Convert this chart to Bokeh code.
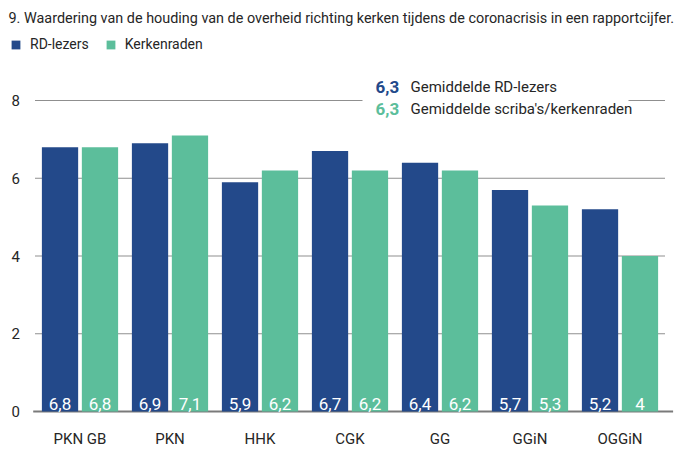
from bokeh.plotting import figure
from bokeh.models import (ColumnDataSource, Range1d, FixedTicker, Label, Legend,
                          LegendItem, BoxAnnotation)
from bokeh.core.properties import value
from bokeh.embed import file_html
from bokeh.resources import INLINE

# ---- data ----
categories = ["PKN GB", "PKN", "HHK", "CGK", "GG", "GGiN", "OGGiN"]
rd_lezers = [6.8, 6.9, 5.9, 6.7, 6.4, 5.7, 5.2]
kerkenraden = [6.8, 7.1, 6.2, 6.2, 6.2, 5.3, 4.0]
series_names = ["RD-lezers", "Kerkenraden"]
avg_rd = 6.3
avg_kerk = 6.3
y_ticks = [0, 2, 4, 6, 8]
title_text = "9. Waardering van de houding van de overheid richting kerken tijdens de coronacrisis in een rapportcijfer."

BLUE = "#23498a"
GREEN = "#5cbe9b"
FONT = "Roboto"
TXT = "#262626"
GRID = "#8f8f8f"

# ---- layout (pixels) ----
W, H = 688, 453
ZERO_PX = 411               # canvas y of value 0
F_BOTTOM = 30               # room for the category labels
FRAME_H = H - F_BOTTOM
PX_PER_UNIT_Y = 38.875
PX_PER_GROUP = 90.0
FIRST_GROUP_PX = 79.5

n = len(categories)
idx = list(range(n))


def fmt(v):
    return f"{v:g}".replace(".", ",")


off = 0.222
bw = 0.403
src = ColumnDataSource(dict(
    x_rd=[i - off for i in idx],
    x_kr=[i + off for i in idx],
    rd=rd_lezers,
    kr=kerkenraden,
    rd_lbl=[fmt(v) for v in rd_lezers],
    kr_lbl=[fmt(v) for v in kerkenraden],
))

x_start = -FIRST_GROUP_PX / PX_PER_GROUP
x_end = x_start + W / PX_PER_GROUP
y_start = -(FRAME_H - ZERO_PX) / PX_PER_UNIT_Y
y_end = ZERO_PX / PX_PER_UNIT_Y
p = figure(x_range=Range1d(x_start, x_end), y_range=Range1d(y_start, y_end),
           width=W, height=H, output_backend="svg", toolbar_location=None,
           y_axis_location=None,
           min_border_left=0, min_border_right=0, min_border_top=0, min_border_bottom=F_BOTTOM)
p.outline_line_color = None
p.background_fill_color = "white"
p.xgrid.grid_line_color = None
p.ygrid.grid_line_color = None

# gridlines (2..8) spanning the category area, baseline at 0 a bit longer and darker
grid_y = [t for t in y_ticks if t > 0]
p.segment(x0=-0.5, x1=n - 0.5, y0=grid_y, y1=grid_y, line_color=GRID, line_width=1)
p.segment(x0=[-0.52], x1=[n - 0.5 + 0.09], y0=[0], y1=[0], line_color="#7a7a7a", line_width=1.8)

r_rd = p.vbar(x="x_rd", top="rd", width=bw, bottom=0, source=src, fill_color=BLUE, line_color=None)
r_kr = p.vbar(x="x_kr", top="kr", width=bw, bottom=0, source=src, fill_color=GREEN, line_color=None)

for col, xcol in (("rd_lbl", "x_rd"), ("kr_lbl", "x_kr")):
    p.text(x=xcol, y=0, text=col, source=src,
           text_align="center", text_baseline="alphabetic", y_offset=-8,
           text_color="white", text_font=value(FONT), text_font_size="17px")

# y tick labels
p.text(x=[-0.5] * len(y_ticks), y=y_ticks, text=[str(t) for t in y_ticks],
       x_offset=-15, text_align="right", text_baseline="middle",
       text_color=TXT, text_font=value(FONT), text_font_size="15px")

# x axis with category labels
p.xaxis.ticker = FixedTicker(ticks=idx)
p.xaxis.major_label_overrides = {i: c for i, c in zip(idx, categories)}
p.xaxis.axis_line_color = None
p.xaxis.major_tick_line_color = None
p.xaxis.minor_tick_line_color = None
p.xaxis.major_tick_out = 0
p.xaxis.major_tick_in = 0
p.xaxis.major_label_standoff = 6
p.xaxis.major_label_text_font = FONT
p.xaxis.major_label_text_font_size = "15px"
p.xaxis.major_label_text_color = TXT

# gap in the 8-gridline behind the average texts
p.add_layout(BoxAnnotation(left=362, right=628, left_units="screen", right_units="screen",
                           bottom=7.93, top=8.07, fill_color="white", fill_alpha=1.0, line_color=None))

FB = FRAME_H  # frame bottom in canvas pixels (screen y is measured up from here)

# average texts
p.add_layout(Label(x=375, y=FB - 86, x_units="screen", y_units="screen", text=fmt(avg_rd),
                   text_color=BLUE, text_font=FONT, text_font_size="17px", text_font_style="bold",
                   text_baseline="middle"))
p.add_layout(Label(x=410, y=FB - 86, x_units="screen", y_units="screen", text="Gemiddelde RD-lezers",
                   text_color=TXT, text_font=FONT, text_font_size="15px", text_baseline="middle"))
p.add_layout(Label(x=375, y=FB - 108, x_units="screen", y_units="screen", text=fmt(avg_kerk),
                   text_color=GREEN, text_font=FONT, text_font_size="17px", text_font_style="bold",
                   text_baseline="middle"))
p.add_layout(Label(x=410, y=FB - 108, x_units="screen", y_units="screen",
                   text="Gemiddelde scriba's/kerkenraden",
                   text_color=TXT, text_font=FONT, text_font_size="15px", text_baseline="middle"))

# title
p.add_layout(Label(x=8, y=FB - 18, x_units="screen", y_units="screen", text=title_text,
                   text_color=TXT, text_font=FONT, text_font_size="14.4px", text_baseline="middle"))

# legend
legend = Legend(items=[LegendItem(label=series_names[0], renderers=[r_rd]),
                       LegendItem(label=series_names[1], renderers=[r_kr])],
                location=(10, FB - 52), orientation="horizontal",
                glyph_width=11, glyph_height=11, label_standoff=9, spacing=16,
                padding=0, margin=0, border_line_color=None, background_fill_alpha=0,
                label_text_font=FONT, label_text_font_size="14px", label_text_color=TXT,
                label_height=11, label_text_baseline="middle")
p.add_layout(legend)

open("out.html", "w").write(file_html(p, INLINE))
